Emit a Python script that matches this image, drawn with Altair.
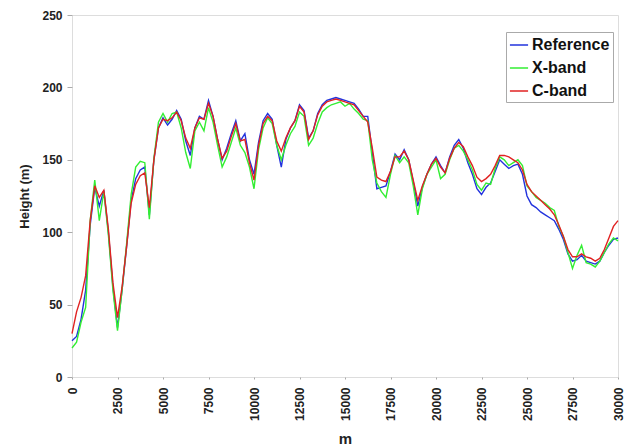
import altair as alt
import pandas as pd

distance = list(range(0, 30001, 250))

reference = [25, 28, 40, 60, 105, 131, 118, 129, 100, 62, 34, 60, 90, 122, 137, 143, 145, 112, 150, 172,
             179, 174, 178, 184, 178, 163, 153, 172, 180, 178, 191, 180, 164, 150, 158, 168, 177, 163, 168, 150,
             140, 162, 177, 182, 178, 160, 145, 164, 172, 177, 188, 184, 165, 170, 182, 188, 191, 192, 193, 192,
             191, 190, 189, 185, 180, 180, 155, 130, 131, 132, 142, 154, 150, 157, 150, 135, 118, 131, 140, 147,
             152, 146, 141, 152, 160, 164, 158, 148, 140, 130, 126, 131, 134, 142, 150, 147, 144, 146, 147, 140,
             125, 119, 117, 114, 112, 110, 108, 102, 95, 85, 80, 81, 84, 80, 79, 78, 80, 86, 91, 95, 96]

xband = [20, 24, 38, 48, 108, 136, 108, 128, 98, 60, 32, 60, 92, 126, 145, 149, 148, 109, 151, 176,
         182, 176, 182, 183, 172, 155, 144, 170, 176, 170, 186, 176, 160, 145, 152, 162, 172, 160, 155, 145,
         130, 157, 172, 179, 175, 160, 150, 160, 168, 173, 183, 180, 160, 165, 175, 183, 186, 188, 189, 190,
         187, 189, 185, 182, 178, 177, 150, 134, 128, 124, 140, 153, 148, 152, 148, 132, 112, 130, 140, 145,
         150, 137, 140, 150, 158, 160, 156, 150, 143, 133, 129, 134, 133, 144, 152, 150, 146, 148, 150, 146,
         132, 128, 124, 122, 120, 117, 115, 104, 97, 86, 75, 84, 91, 79, 78, 76, 80, 86, 92, 96, 94]

cband = [30, 45, 55, 70, 108, 132, 124, 129, 102, 65, 41, 62, 90, 120, 133, 139, 141, 117, 150, 172,
         178, 177, 179, 183, 177, 165, 158, 172, 179, 178, 189, 180, 164, 151, 156, 166, 175, 163, 164, 148,
         136, 160, 175, 180, 177, 163, 156, 165, 172, 177, 187, 183, 164, 170, 181, 187, 190, 191, 192, 191,
         190, 189, 188, 184, 180, 176, 158, 138, 136, 135, 142, 152, 152, 156, 150, 136, 122, 132, 140, 147,
         151, 145, 141, 151, 158, 162, 159, 152, 146, 138, 135, 137, 140, 146, 153, 153, 152, 150, 148, 143,
         133, 128, 125, 122, 119, 116, 112, 105, 97, 88, 83, 83, 85, 83, 82, 80, 82, 88, 96, 104, 108]

series_names = ["Reference", "X-band", "C-band"]
series_colors = ["#2233dd", "#33ee33", "#e02222"]
x_ticks = list(range(0, 30001, 2500))
y_ticks = [0, 50, 100, 150, 200, 250]

rows = []
for name, vals in zip(series_names, [reference, xband, cband]):
    for i, (d, v) in enumerate(zip(distance, vals)):
        rows.append({"m": d, "height": v, "series": name, "idx": i})
df = pd.DataFrame(rows)

chart = alt.Chart(df).mark_line(strokeWidth=1.4).encode(
    x=alt.X("m:Q", title="m",
            scale=alt.Scale(domain=[0, 30000], nice=False, zero=False),
            axis=alt.Axis(values=x_ticks, format="d", labelAngle=-90, labelAlign="right",
                          labelBaseline="middle",
                          labelFontWeight="bold", labelFontSize=12, labelColor="#222",
                          titleFontSize=15, titleFontWeight="bold", titleColor="#222",
                          tickSize=2, tickColor="#aaa", domain=False, grid=False,
                          labelPadding=8, titlePadding=11)),
    y=alt.Y("height:Q", title="Height (m)",
            scale=alt.Scale(domain=[0, 250], nice=False),
            axis=alt.Axis(values=y_ticks, labelFontWeight="bold", labelFontSize=12, labelColor="#222",
                          titleFontSize=13, titleFontWeight="bold", titleColor="#222",
                          tickSize=5, tickColor="#aaa", domain=False, grid=False,
                          labelPadding=5, titlePadding=10)),
    color=alt.Color("series:N", sort=series_names,
                    scale=alt.Scale(domain=series_names, range=series_colors),
                    legend=alt.Legend(title=None, orient="none", legendX=434, legendY=17,
                                      symbolType="stroke", symbolSize=330, symbolStrokeWidth=1.5,
                                      labelFontSize=16, labelFontWeight="bold", labelColor="#111",
                                      fillColor="white", strokeColor="#aaa", padding=3,
                                      rowPadding=5, labelOffset=3)),
    order=alt.Order("idx:Q"),
    detail="series:N",
).properties(
    width=546, height=362,
    autosize=alt.AutoSizeParams(type="none"),
    padding={"left": 64, "top": 7, "right": 8, "bottom": 70},
).configure_view(
    stroke="#777", strokeWidth=1.5
).configure(
    font="Liberation Sans"
)

chart.save("out.html", embed_options={"renderer": "svg", "actions": False})
